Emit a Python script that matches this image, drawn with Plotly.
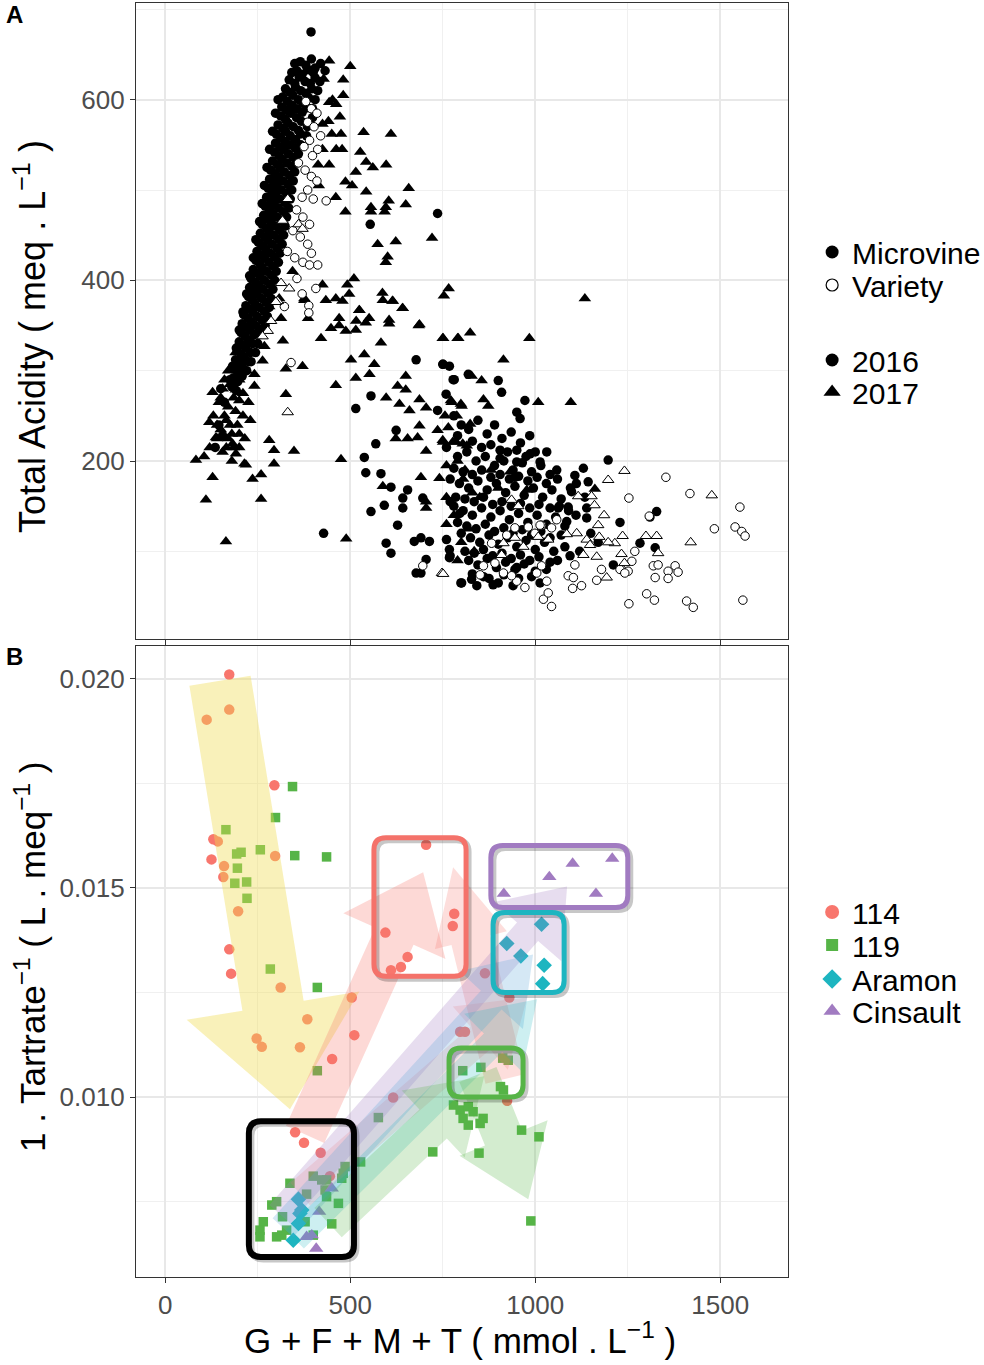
import plotly.graph_objects as go

# ---------------- Panel A data (G+F+M+T, Total acidity) ----------------
# Microvine 2016 (filled circles)
mv16_x = [394, 396, 350, 365, 380, 395, 405, 335, 350, 362, 378, 392, 405, 318, 330, 345, 360, 372, 388,
          312, 325, 340, 355, 368, 300, 312, 325, 338, 352, 366, 295, 308, 320, 333, 346,
          285, 298, 310, 322, 336, 278, 290, 302, 314, 328, 270, 282, 294, 306, 320,
          262, 274, 286, 298, 310, 252, 264, 276, 288, 302, 245, 256, 268, 280, 292,
          232, 244, 256, 268, 282, 225, 236, 248, 260, 272, 212, 224, 236, 248, 262,
          205, 216, 228, 240, 195, 206, 218, 230, 185, 196, 208, 180, 192,
          342, 356, 370, 385, 400, 325, 338, 352, 366, 380, 396, 315, 328, 342, 356, 370, 384,
          305, 318, 332, 346, 360, 298, 310, 324, 338, 352, 290, 303, 316, 329, 342,
          282, 294, 306, 318, 332, 274, 286, 298, 310, 324, 266, 278, 290, 302, 314,
          257, 269, 281, 293, 306, 248, 260, 272, 284, 296, 238, 250, 262, 274, 287,
          228, 240, 252, 264, 277, 218, 230, 242, 254, 267, 208, 220, 232, 244, 256,
          200, 212, 224, 236, 190, 202, 214, 226, 184, 196, 208,
          420, 418, 405, 398, 382, 360, 350, 342, 334, 324, 316, 306, 296, 286, 276, 254, 244, 220,
          432, 412, 398, 384, 366, 356, 346, 338, 328, 320, 310, 300, 291, 281, 270, 250, 232,
          305, 298, 290, 282, 275, 268, 262, 255, 245, 238, 228, 220, 210, 200, 192, 182, 175,
          150, 160, 145, 135, 155,
          736, 554, 678, 750, 768, 781, 556, 515, 759, 736, 624, 569, 538, 542, 583, 610, 655, 642, 696,
          592, 556, 642, 628, 597, 610, 673, 691, 714, 705, 691, 678, 768, 768, 799, 428,
          1197, 1130, 1107, 1111, 1143, 1098, 1134, 1139, 1139, 1229, 1283, 1328, 1310, 1324, 1211, 1094,
          1080, 1085, 1062, 1089, 1058, 1031, 1013, 986, 950, 945, 959, 950, 972, 909, 900, 751, 778, 819,
          770, 796, 760, 770, 801, 828, 842, 886, 950, 1013, 905,
          780, 800, 820, 845, 870, 890, 910, 935, 960, 985,
          760, 790, 815, 840, 865, 890, 915, 940, 965, 990, 1015, 1040,
          770, 795, 820, 845, 870, 895, 920, 945, 970, 995, 1020, 1045, 1070, 1095,
          780, 805, 830, 855, 880, 905, 930, 955, 980, 1005, 1030, 1055, 1080, 1110,
          800, 825, 850, 875, 900, 925, 950, 975, 1000, 1025, 1050,
          820, 845, 870, 895, 920, 945, 970, 1000, 860, 900, 940, 1060, 1120, 1150, 1170,
          790, 830, 855, 880, 905, 925, 950, 975, 1000,
          780, 805, 830, 855, 880, 905, 930, 955, 980, 1005, 1030, 1060,
          785, 810, 835, 860, 885, 910, 935, 960, 985, 1010, 1040, 1065, 1090,
          790, 815, 840, 865, 890, 915, 940, 965, 990, 1015, 1040, 1070,
          810, 835, 860, 885, 910, 935, 960, 985, 1010, 1040,
          830, 875, 915, 955, 990, 1030]
mv16_y = [675, 632, 640, 642, 638, 645, 635, 622, 618, 625, 620, 618, 624, 603, 598, 605, 600, 596, 602,
          582, 578, 585, 580, 576, 562, 558, 565, 560, 556, 562, 542, 538, 545, 540, 536,
          522, 518, 525, 520, 516, 502, 498, 505, 500, 496, 482, 478, 485, 480, 476,
          462, 458, 465, 460, 456, 442, 438, 445, 440, 436, 422, 418, 425, 420, 416,
          402, 398, 405, 400, 396, 382, 378, 385, 380, 376, 362, 358, 365, 360, 356,
          342, 338, 345, 340, 322, 318, 325, 320, 302, 298, 305, 282, 278,
          630, 632, 628, 633, 630, 612, 608, 614, 610, 607, 612, 592, 588, 594, 590, 586, 591,
          572, 568, 574, 570, 566, 552, 548, 554, 550, 546, 532, 528, 534, 530, 526,
          512, 508, 514, 510, 506, 492, 488, 494, 490, 486, 472, 468, 474, 470, 466,
          452, 448, 454, 450, 446, 432, 428, 434, 430, 426, 412, 408, 414, 410, 406,
          392, 388, 394, 390, 386, 372, 368, 374, 370, 366, 352, 348, 354, 350, 346,
          332, 328, 334, 330, 312, 308, 314, 310, 292, 288, 294,
          640, 620, 600, 580, 560, 540, 520, 500, 480, 460, 440, 420, 400, 380, 360, 340, 320, 300,
          632, 610, 590, 570, 550, 530, 510, 490, 470, 450, 430, 410, 390, 370, 350, 330, 310,
          600, 585, 565, 545, 525, 505, 485, 465, 445, 425, 405, 385, 365, 345, 325, 305, 290,
          280, 265, 240, 215, 228,
          474, 462, 312, 307, 305, 290, 272, 258, 274, 256, 234, 219, 204, 187, 186, 171, 168, 159, 159,
          151, 144, 148, 129, 109, 98, 111, 115, 111, 91, 76, 76, 102, 93, 65, 120,
          201, 192, 184, 175, 177, 166, 160, 148, 137, 132, 109, 144, 138, 104, 85, 95,
          105, 133, 148, 149, 190, 210, 199, 208, 199, 182, 247, 254, 267, 276, 289, 307, 290, 296,
          155, 142, 113, 95, 65, 69, 62, 63, 82, 65, 203,
          250, 240, 235, 245, 230, 240, 225, 232, 220, 228,
          215, 205, 210, 200, 205, 195, 200, 190, 198, 188, 195, 185,
          180, 175, 170, 178, 168, 175, 165, 172, 162, 170, 160, 168, 158, 170,
          150, 145, 140, 148, 138, 145, 135, 142, 132, 140, 130, 138, 128, 140,
          120, 115, 110, 118, 108, 115, 105, 112, 102, 110, 100,
          90, 85, 92, 82, 88, 80, 86, 78, 72, 65, 62, 90, 100, 120, 110,
          228, 222, 215, 218, 212, 210, 212, 205, 210,
          192, 188, 185, 190, 182, 185, 180, 183, 178, 182, 175, 180,
          160, 158, 155, 160, 152, 155, 150, 153, 148, 152, 148, 150, 145,
          132, 128, 125, 130, 122, 126, 120, 124, 118, 122, 115, 118,
          100, 98, 102, 95, 98, 92, 96, 90, 94, 88,
          75, 70, 74, 70, 72, 80]

# Microvine 2017 (filled triangles)
mv17_x = [443, 500, 428, 481, 481, 443, 452, 462, 472, 425, 441, 536, 610, 475, 450, 527, 478, 462, 425,
          515, 561, 597, 543, 443, 413, 415, 487, 505, 658, 461, 543, 556, 604, 596, 650, 487, 556, 593,
          574, 623, 596, 601, 721, 753, 766, 510, 461, 492, 425, 497, 587, 614, 641, 525,
          470, 516, 551, 605, 685, 344, 376, 308, 281,
          83, 128, 110, 259, 164, 348, 294, 236, 259, 218, 281, 294, 475, 489,
          376, 434, 479, 524, 588, 615, 642, 687, 605, 542, 470, 448, 488, 421, 515, 583, 750, 790,
          502, 538, 565, 371, 515, 552, 650, 461, 628, 650, 597, 633, 687, 660, 705, 772, 799,
          687, 682, 655, 623, 705, 736, 750, 777, 804, 691, 741, 588, 705, 705, 326, 326, 386,
          313, 318, 268, 263, 241, 241, 191, 200, 128, 119, 137, 182, 191, 214,
          751, 792, 824, 984, 914, 855, 828, 774, 801, 860, 873, 1008, 1096, 756, 788, 824, 765,
          751, 786, 815, 810, 932, 977, 1161, 1134,
          170, 160, 150, 140, 175, 190, 200, 165, 180, 155, 145, 200, 210, 220, 190, 170,
          160, 175, 185, 150, 165, 180, 195, 130, 140, 155, 170, 120, 105, 210, 225, 200, 215, 185, 230,
          760, 790, 805, 830, 760, 780, 800, 820, 850, 880, 900, 760, 790, 835]
mv17_y = [643, 637, 623, 622, 605, 597, 600, 595, 581, 573, 576, 564, 562, 562, 562, 542, 545, 545, 545,
          520, 525, 528, 531, 528, 528, 505, 509, 505, 502, 492, 498, 481, 488, 481, 484, 476, 476, 476,
          440, 443, 420, 426, 447, 383, 391, 402, 380, 395, 395, 385, 386, 377, 369, 367,
          350, 355, 358, 352, 350, 410, 378, 380, 371,
          201, 182, 157, 158, 111, 211, 197, 180, 185, 196, 223, 212, 202, 114,
          380, 378, 377, 367, 378, 377, 369, 351, 356, 353, 358, 347, 344, 336, 345, 331, 336, 336,
          312, 318, 307, 305, 292, 296, 294, 284, 283, 279, 270, 263, 268, 256, 259, 267, 263,
          239, 226, 225, 225, 211, 234, 223, 221, 219, 182, 181, 172, 148, 155, 302, 274, 358,
          358, 333, 327, 311, 296, 283, 279, 267, 276, 243, 226, 219, 208, 197,
          336, 336, 342, 336, 312, 289, 294, 265, 261, 268, 261, 265, 265, 250, 250, 241, 237,
          221, 221, 217, 190, 188, 168, 169, 380,
          260, 250, 235, 225, 240, 255, 230, 215, 200, 280, 265, 290, 275, 300, 320, 300,
          290, 285, 270, 270, 245, 230, 240, 250, 240, 210, 225, 215, 205, 250, 265, 215, 225, 215, 245,
          195, 200, 180, 165, 160, 140, 110, 125, 160, 190, 170, 130, 90, 100]

# Variety 2016 (open circles)
va16_x = [380, 395, 410, 385, 402, 420, 390, 375, 412, 398, 360, 378, 395, 410, 385, 370, 400, 435,
          355, 372, 390, 345, 365, 385, 330, 350, 372, 395, 412, 390, 356, 370, 388, 407, 340, 388, 322,
          1353, 1418, 1253, 1553, 1308, 1484, 1540, 1558, 1567,
          1269, 1261, 1233, 1251, 1319, 1332, 1378, 1359, 1386, 1324, 1359,
          1301, 1322, 1409, 1427, 1561, 1253,
          1107, 1089, 1103, 1125, 1101, 1166, 1179, 1229, 1242,
          1022, 1035, 1044, 1031, 1004, 1017, 1044, 1017, 1058,
          860, 851, 914, 950, 972, 936, 891, 882, 923, 945, 981, 999, 1013, 696]
va16_y = [598, 590, 585, 575, 570, 560, 555, 548, 545, 538, 530, 522, 515, 510, 500, 492, 490, 488,
          478, 470, 462, 455, 448, 440, 432, 425, 420, 430, 417, 417, 402, 385, 372, 391, 309, 364, 371,
          182, 164, 159, 149, 139, 125, 127, 122, 117,
          100, 89, 80, 78, 84, 85, 84, 78, 77, 71, 70,
          53, 46, 45, 38, 46, 42,
          85, 73, 71, 62, 59, 68, 80, 80, 76,
          47, 54, 39, 67, 76, 84, 126, 129, 135,
          84, 74, 76, 67, 60, 73, 87, 109, 118, 126, 127, 120, 129, 84]

# Variety 2017 (open triangles)
va17_x = [331, 317, 360, 371, 313, 335, 304, 286, 299, 277, 263, 331, 748,
          1241, 1197, 1477, 1116, 1152, 1160, 1186, 1170, 1236, 1299, 1328, 1420, 1332, 1233, 1241,
          1215, 1197, 1173, 1139, 1112, 1085, 1148, 1130, 1166, 1193, 936, 954,
          1035, 1008, 968, 909, 914, 945, 751]
va17_y = [490, 466, 462, 457, 397, 391, 377, 355, 376, 344, 338, 254, 76,
          189, 179, 162, 161, 161, 151, 140, 129, 117, 117, 117, 110, 98, 97, 87,
          109, 110, 116, 113, 120, 119, 107, 96, 94, 71, 157, 150,
          113, 116, 105, 96, 109, 115, 75]

# ---------------- Panel B data (G+F+M+T, 1/Tartrate) ----------------
g114_x = [173, 173, 112, 295, 130, 142, 125, 297, 159, 157, 197, 173, 178,
          705, 781, 777, 595, 655, 637, 610,
          312, 384, 504, 247, 261, 364, 511, 451, 616, 351, 375, 420, 445, 797, 810, 930, 924, 864]
g114_y = [0.02010, 0.01926, 0.01902, 0.01745, 0.01616, 0.01611, 0.01568, 0.01576, 0.01552, 0.01526,
          0.01444, 0.01353, 0.01295,
          0.01603, 0.01438, 0.01409, 0.01393, 0.01335, 0.01311, 0.01303,
          0.01262, 0.01186, 0.01238, 0.01140, 0.01120, 0.01119, 0.01148, 0.01091, 0.00999, 0.00916,
          0.00891, 0.00867, 0.00811, 0.01156, 0.01156, 0.01238, 0.00991, 0.01296]

g119_x = [344, 298, 164, 205, 193, 257, 350, 436, 195, 188, 220, 221, 284,
          411, 411, 576, 723, 528, 804, 853, 912, 927, 906, 914,
          779, 797, 819, 805, 819, 859, 851, 832, 963, 1010, 848, 988,
          337, 400, 423, 436, 486, 481, 477, 432, 436, 468, 382, 288, 301, 317, 265, 256, 256, 301,
          315, 328, 378, 400, 450]
g119_y = [0.01742, 0.01668, 0.01639, 0.01585, 0.01581, 0.01591, 0.01577, 0.01574, 0.01547, 0.01511,
          0.01514, 0.01475, 0.01306,
          0.01262, 0.01063, 0.00951, 0.00869, 0.00845, 0.01063, 0.01071, 0.01093, 0.01088, 0.01025, 0.01017,
          0.00981, 0.00969, 0.00977, 0.00949, 0.00933, 0.00949, 0.00937, 0.00965, 0.00921, 0.00905,
          0.00866, 0.00704,
          0.00794, 0.00811, 0.00802, 0.00802, 0.00834, 0.00818, 0.00806, 0.00778, 0.00762, 0.00746,
          0.00768, 0.00742, 0.00750, 0.00714, 0.00702, 0.00682, 0.00666, 0.00666, 0.00670, 0.00682,
          0.00702, 0.00670, 0.00697]

aramon_x = [360, 364, 360, 346, 369, 1017, 923, 961, 1024, 1020]
aramon_y = [0.00756, 0.00722, 0.00698, 0.00658, 0.00730, 0.01413, 0.01367, 0.01337, 0.01315, 0.01271]

cinsault_x = [450, 416, 382, 396, 408, 915, 1038, 1101, 1208, 1164]
cinsault_y = [0.00782, 0.00726, 0.00666, 0.00670, 0.00638, 0.01486, 0.01526, 0.01558, 0.01570, 0.01486]

group_names = ["114", "119", "Aramon", "Cinsault"]
group_colors = ["#F8766D", "#56B447", "#1DB5C0", "#A17BC1"]

# Trajectory arrows of panel B: (x_start, y_start, x_end, y_end, colour)
arrow_paths = [
    (148, 0.01995, 337, 0.00971, "#EFDB52"),
    (378, 0.00911, 697, 0.01537, "#F8766D"),
    (918, 0.01043, 778, 0.01549, "#F8766D"),
    (365, 0.00768, 978, 0.01238, "#F8766D"),
    (310, 0.00720, 1086, 0.01503, "#A17BC1"),
    (318, 0.00688, 994, 0.01341, "#5DA5DA"),
    (350, 0.00660, 1005, 0.01234, "#1DB5C0"),
    (440, 0.00700, 862, 0.01050, "#56B447"),
    (845, 0.01054, 981, 0.00756, "#56B447"),
]
# stage boxes of panel B: (x_min, x_max, y_min, y_max, colour)
stage_boxes = [
    (226, 510, 0.00618, 0.00942, "#000000"),
    (564, 813, 0.01289, 0.01620, "#F4726A"),
    (880, 1250, 0.01453, 0.01601, "#A17BC1"),
    (886, 1078, 0.01250, 0.01441, "#1DB5C0"),
    (767, 967, 0.01000, 0.01117, "#56B447"),
]

# ---------------- geometry helpers ----------------
SX = 0.37            # px per x unit
SY = 104.7 / 0.0025  # px per y unit (panel B)
arrow_dims = [(62, 175, 105, 0.40), (42, 112, 70, 0.28), (40, 74, 75, 0.24), (30, 84, 62, 0.20),
              (28, 90, 60, 0.26), (28, 86, 62, 0.26), (26, 82, 62, 0.22), (40, 92, 70, 0.24),
              (40, 95, 66, 0.26)]


def arrow_path(x0, y0, x1, y1, shaft, headw, headl):
    X0, Y0, X1, Y1 = x0 * SX, y0 * SY, x1 * SX, y1 * SY
    dx, dy = X1 - X0, Y1 - Y0
    L = (dx * dx + dy * dy) ** 0.5
    ux, uy = dx / L, dy / L
    nx, ny = -uy, ux
    bx, by = X1 - ux * headl, Y1 - uy * headl
    pts = [(X0 + nx * shaft / 2, Y0 + ny * shaft / 2), (bx + nx * shaft / 2, by + ny * shaft / 2),
           (bx + nx * headw / 2, by + ny * headw / 2), (X1, Y1),
           (bx - nx * headw / 2, by - ny * headw / 2), (bx - nx * shaft / 2, by - ny * shaft / 2),
           (X0 - nx * shaft / 2, Y0 - ny * shaft / 2)]
    return "M " + " L ".join(f"{px / SX:.3f},{py / SY:.7f}" for px, py in pts) + " Z"


def rrect(x0, x1, y0, y1, r=12, ox=0, oy=0):
    rx, ry = r / SX, r / SY
    x0, x1 = x0 + ox / SX, x1 + ox / SX
    y0, y1 = y0 - oy / SY, y1 - oy / SY
    f = lambda a, b: f"{a:.3f},{b:.7f}"
    return (f"M {f(x0 + rx, y1)} L {f(x1 - rx, y1)} Q {f(x1, y1)} {f(x1, y1 - ry)} "
            f"L {f(x1, y0 + ry)} Q {f(x1, y0)} {f(x1 - rx, y0)} L {f(x0 + rx, y0)} "
            f"Q {f(x0, y0)} {f(x0, y0 + ry)} L {f(x0, y1 - ry)} Q {f(x0, y1)} {f(x0 + rx, y1)} Z")


FONT = "Liberation Sans, Arial, Helvetica, sans-serif"
fig = go.Figure()

# ---- Panel A traces ----
fig.add_trace(go.Scatter(x=mv16_x, y=mv16_y, mode="markers", xaxis="x", yaxis="y", showlegend=False,
                         marker=dict(symbol="circle", size=9.5, color="black", line=dict(width=0))))
fig.add_trace(go.Scatter(x=mv17_x, y=mv17_y, mode="markers", xaxis="x", yaxis="y", showlegend=False,
                         marker=dict(symbol="triangle-up", size=11, color="black", line=dict(width=0))))
fig.add_trace(go.Scatter(x=va16_x, y=va16_y, mode="markers", xaxis="x", yaxis="y", showlegend=False,
                         marker=dict(symbol="circle", size=8.5, color="white", line=dict(width=1, color="black"))))
fig.add_trace(go.Scatter(x=va17_x, y=va17_y, mode="markers", xaxis="x", yaxis="y", showlegend=False,
                         marker=dict(symbol="triangle-up", size=10, color="white", line=dict(width=1, color="black"))))

# ---- Panel B traces ----
groups = [(g114_x, g114_y, "circle", 10.5), (g119_x, g119_y, "square", 9.5),
          (aramon_x, aramon_y, "diamond", 12), (cinsault_x, cinsault_y, "triangle-up", 12.5)]
for (gx, gy, sym, sz), name, col in zip(groups, group_names, group_colors):
    fig.add_trace(go.Scatter(x=gx, y=gy, mode="markers", name=name, xaxis="x2", yaxis="y2",
                             showlegend=False, marker=dict(symbol=sym, size=sz, color=col, line=dict(width=0))))


def ypap(py):
    return (1277 - py) / 1274


# ---- legend entries: one legend per entry, so spacing follows the reference ----
legend_items = [
    ("Microvine", dict(symbol="circle", size=13, color="black"), 252),
    ("Variety", dict(symbol="circle", size=12, color="white", line=dict(width=1.2, color="black")), 285),
    ("2016", dict(symbol="circle", size=13, color="black"), 360),
    ("2017", dict(symbol="triangle-up", size=15, color="black"), 392),
    ("114", dict(symbol="circle", size=14, color=group_colors[0]), 912),
    ("119", dict(symbol="square", size=12, color=group_colors[1]), 945),
    ("Aramon", dict(symbol="diamond", size=15, color=group_colors[2]), 979),
    ("Cinsault", dict(symbol="triangle-up", size=15, color=group_colors[3]), 1011),
]
legend_layout = {}
for i, (name, mk, py) in enumerate(legend_items):
    key = "legend" if i == 0 else f"legend{i + 1}"
    fig.add_trace(go.Scatter(x=[None], y=[None], mode="markers", name=name, legend=key, marker=mk,
                             xaxis="x2", yaxis="y2"))
    legend_layout[key] = dict(x=1.037, y=ypap(py), xanchor="left", yanchor="middle",
                              font=dict(size=30, family=FONT, color="black"), bgcolor="rgba(0,0,0,0)",
                              borderwidth=0)

shapes = []
for (x0, y0, x1, y1, col), (sw, hw, hl, op) in zip(arrow_paths, arrow_dims):
    shapes.append(dict(type="path", path=arrow_path(x0, y0, x1, y1, sw, hw, hl), xref="x2", yref="y2",
                       fillcolor=col, opacity=op, line=dict(width=0), layer="above"))
for (x0, x1, y0, y1, col) in stage_boxes:
    shapes.append(dict(type="path", path=rrect(x0, x1, y0, y1, ox=2.5, oy=2.5), xref="x2", yref="y2",
                       line=dict(color="rgba(0,0,0,0.22)", width=6), layer="above"))
    shapes.append(dict(type="path", path=rrect(x0, x1, y0, y1), xref="x2", yref="y2",
                       line=dict(color=col, width=6 if col == "#000000" else 5), layer="above"))

axis_common = dict(showline=True, mirror=True, linecolor="#333333", linewidth=1.2, zeroline=False,
                   gridcolor="#E8E8E8", gridwidth=1.5, ticks="outside", ticklen=5, tickcolor="#333333",
                   tickfont=dict(family=FONT, size=26, color="#4D4D4D"))
xr = [-79, 1683]

fig.update_layout(
    width=984, height=1365, paper_bgcolor="white", plot_bgcolor="white",
    margin=dict(l=136, r=196, t=3, b=88, autoexpand=False),
    font=dict(family=FONT, color="black"),
    xaxis=dict(domain=[0, 1], anchor="y", range=xr, tickvals=[0, 500, 1000, 1500], showticklabels=False,
               minor=dict(dtick=250, tick0=0, showgrid=True, gridcolor="#F0F0F0", gridwidth=1), **axis_common),
    yaxis=dict(domain=[0.5008, 1], anchor="x", range=[3, 707], tickvals=[200, 400, 600],
               minor=dict(dtick=100, tick0=0, showgrid=True, gridcolor="#F0F0F0", gridwidth=1), **axis_common),
    xaxis2=dict(domain=[0, 1], anchor="y2", range=xr, tickvals=[0, 500, 1000, 1500],
                minor=dict(dtick=250, tick0=0, showgrid=True, gridcolor="#F0F0F0", gridwidth=1), **axis_common),
    yaxis2=dict(domain=[0, 0.4953], anchor="x2", range=[0.0057, 0.02078], tickvals=[0.010, 0.015, 0.020],
                tickformat=".3f",
                minor=dict(dtick=0.0025, tick0=0, showgrid=True, gridcolor="#F0F0F0", gridwidth=1), **axis_common),
    shapes=shapes,
    annotations=[
        dict(text="Total Acidity ( meq . L<sup>−1</sup> )", xref="paper", yref="paper", x=-0.1626, y=ypap(336),
             textangle=-90, showarrow=False, xanchor="center", yanchor="middle",
             font=dict(size=36, family=FONT, color="black")),
        dict(text="1 . Tartrate<sup>−1</sup> ( L . meq<sup>−1</sup> )", xref="paper", yref="paper",
             x=-0.1626, y=ypap(957), textangle=-90, showarrow=False, xanchor="center", yanchor="middle",
             font=dict(size=35, family=FONT, color="black")),
        dict(text="G + F + M + T ( mmol . L<sup>−1</sup> )", xref="paper", yref="paper", x=0.497, y=ypap(1338),
             showarrow=False, xanchor="center", yanchor="middle", font=dict(size=35, family=FONT, color="black")),
        dict(text="<b>A</b>", xref="paper", yref="paper", x=-0.1856, y=ypap(15), showarrow=False,
             xanchor="center", yanchor="middle", font=dict(size=24, family=FONT, color="black")),
        dict(text="<b>B</b>", xref="paper", yref="paper", x=-0.1856, y=ypap(657), showarrow=False,
             xanchor="center", yanchor="middle", font=dict(size=24, family=FONT, color="black")),
    ],
    **legend_layout,
)

fig.write_html("out.html", config={"displayModeBar": False},
               post_script="document.body.style.margin='0px';")
